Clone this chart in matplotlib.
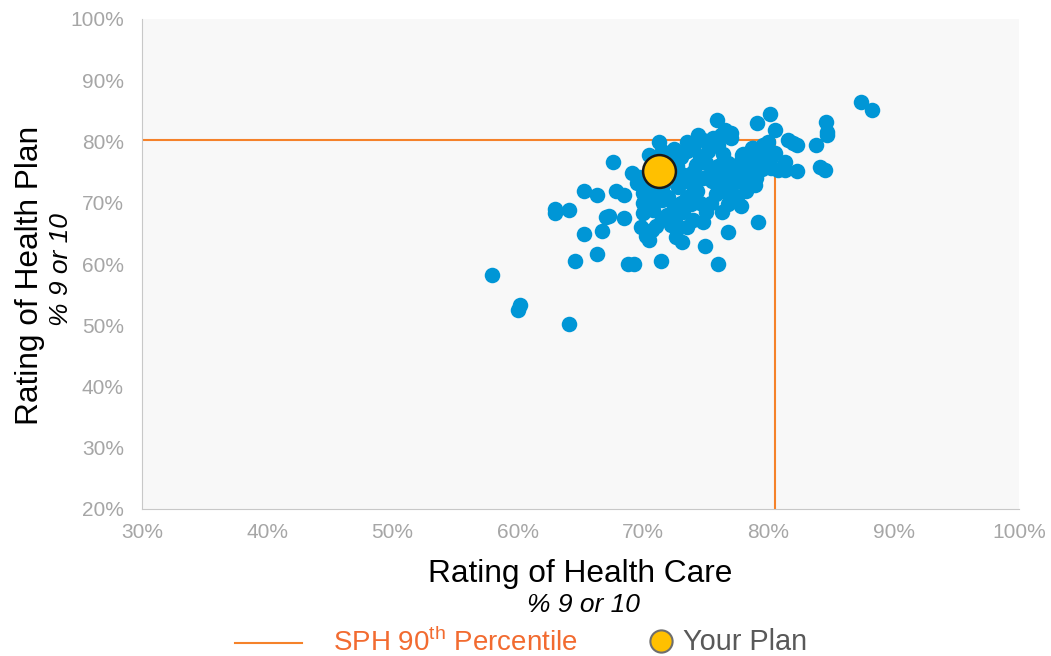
import matplotlib
matplotlib.use("Agg")
import matplotlib.pyplot as plt
from matplotlib.lines import Line2D
from matplotlib.ticker import PercentFormatter

plt.rcParams['font.family'] = ['Liberation Sans', 'DejaVu Sans']
plt.rcParams['mathtext.fontset'] = 'custom'
plt.rcParams['mathtext.rm'] = 'Liberation Sans'

# ------------------------
# Data (% rating 9 or 10)
# ------------------------
health_care = [57.9, 60.0, 60.2, 64.1, 63.0, 63.0, 64.1, 64.6, 65.3, 65.3,
               66.3, 66.3, 66.7, 67.0, 67.3, 67.6, 67.8, 68.5, 68.5, 68.8,
               69.3, 69.1, 69.7, 70.0, 70.0, 70.0, 70.5, 70.7, 71.4, 71.3,
               70.5, 71.6, 71.9, 72.2, 72.6, 73.1, 74.0, 74.9, 76.0, 76.8,
               76.3, 77.8, 79.2, 78.3, 78.9, 77.9, 78.7, 79.5, 74.4, 75.9,
               76.5, 77.0, 79.1, 80.1, 80.5, 81.6, 82.0, 82.3, 81.3, 81.3,
               82.3, 83.8, 84.6, 84.7, 84.7, 84.1, 84.5, 87.4, 88.3, 80.1,
               80.2, 80.8,
               72.5, 73.0, 72.7, 73.3, 73.8, 74.3, 74.8, 74.2, 74.0, 75.2,
               75.6, 76.0, 76.4, 76.8, 77.2, 77.6, 76.2, 75.8, 75.4, 76.6,
               77.0, 78.0, 78.6, 79.0, 79.6, 80.0, 75.0, 75.5, 76.0, 73.5,
               73.0, 72.5, 72.0, 71.5, 71.0, 70.5, 70.8, 71.5, 72.3, 73.2,
               73.8, 74.5, 75.0, 76.8, 77.5, 78.2, 79.0, 79.5, 78.0, 77.0,
               76.2, 74.8, 73.5, 72.0, 71.8, 70.8, 70.4, 71.2, 72.2, 72.8,
               70.2, 69.5, 74.0, 75.5, 76.5, 77.8, 78.8, 80.5, 79.8, 74.5,
               73.5, 71.5, 72.6, 73.5, 74.8, 71.0, 69.8, 70.2]
health_plan = [58.2, 52.5, 53.3, 50.2, 69.0, 68.3, 68.8, 60.5, 64.9, 71.9,
               71.3, 61.6, 65.4, 67.7, 67.8, 76.7, 71.9, 67.5, 71.3, 60.0,
               60.0, 74.9, 74.2, 71.6, 70.0, 68.3, 63.9, 65.5, 60.5, 79.9,
               77.8, 72.9, 68.0, 66.4, 64.4, 63.6, 67.2, 62.9, 60.0, 65.2,
               68.5, 69.5, 66.9, 72.9, 72.9, 77.8, 78.9, 78.8, 81.1, 83.5,
               81.9, 81.4, 83.0, 84.5, 81.9, 80.2, 79.8, 79.4, 76.7, 75.3,
               75.2, 79.4, 83.2, 81.5, 81.1, 75.8, 75.3, 86.4, 85.1, 77.0,
               75.7, 75.3,
               78.7, 77.5, 76.0, 74.5, 73.3, 72.0, 74.0, 76.2, 79.0, 78.5,
               80.5, 79.5, 78.0, 76.5, 75.0, 73.5, 73.0, 71.5, 70.0, 71.8,
               72.5, 74.8, 76.2, 77.5, 79.5, 80.0, 76.5, 75.0, 76.0, 71.0,
               70.0, 69.5, 71.0, 70.5, 71.5, 70.0, 68.8, 67.5, 68.2, 68.5,
               69.8, 70.0, 68.5, 69.8, 71.0, 72.0, 74.0, 75.5, 78.0, 80.5,
               81.0, 80.2, 80.0, 78.0, 76.8, 76.5, 74.5, 73.5, 74.3, 72.5,
               72.8, 73.2, 75.0, 73.5, 74.5, 76.8, 79.0, 78.2, 76.5, 77.5,
               78.5, 78.5, 66.5, 66.0, 66.8, 66.2, 66.0, 64.5]

your_plan_care = 71.3
your_plan_plan = 75.2
p90_care = 80.5
p90_plan = 80.25

# ------------------------
# Plot
# ------------------------
W, H = 1051, 656
fig = plt.figure(figsize=(W / 100, H / 100), dpi=100)
ax = fig.add_axes([142 / W, 1 - 509 / H, (1019 - 142) / W, (509 - 19) / H])
ax.set_facecolor('#f8f8f8')

ax.scatter(health_care, health_plan, s=125, color='#0096d6', linewidths=0, zorder=3)

orange = '#f5822a'
ax.plot([30, p90_care], [p90_plan, p90_plan], color=orange, lw=1.5, zorder=2)
ax.plot([p90_care, p90_care], [20, p90_plan], color=orange, lw=1.5, zorder=2)

ax.scatter([your_plan_care], [your_plan_plan], s=560, color='#ffc000',
           edgecolors='#1a1a1a', linewidths=1.8, zorder=5)

ax.set_xlim(30, 100)
ax.set_ylim(20, 100)
ax.set_xticks(range(30, 101, 10))
ax.set_yticks(range(20, 101, 10))
ax.xaxis.set_major_formatter(PercentFormatter(decimals=0))
ax.yaxis.set_major_formatter(PercentFormatter(decimals=0))
ax.tick_params(length=0, labelsize=15, labelcolor='#a6a6a6')
ax.tick_params(axis='y', pad=13)
ax.tick_params(axis='x', pad=10)
for side in ['top', 'right']:
    ax.spines[side].set_visible(False)
for side in ['left', 'bottom']:
    ax.spines[side].set_color('#c8c8c8')

# axis titles
fig.text(580 / W, 1 - 574 / H, "Rating of Health Care", fontsize=22.8,
         ha='center', va='center', color='black')
fig.text(583 / W, 1 - 605 / H, "% 9 or 10", fontsize=19, style='italic',
         ha='center', va='center', color='black')
fig.text(30 / W, 1 - 275 / H, "Rating of Health Plan", fontsize=22.8,
         rotation=90, ha='center', va='center', color='black')
fig.text(61 / W, 1 - 270 / H, "% 9 or 10", fontsize=19, style='italic',
         rotation=90, ha='center', va='center', color='black')

# legend
ly = 1 - 642 / H
fig.add_artist(Line2D([235 / W, 302 / W], [1 - 643 / H, 1 - 643 / H],
                      transform=fig.transFigure, color=orange, lw=1.5))
fig.text(333 / W, ly, r"SPH 90$^{\mathrm{th}}$ Percentile", fontsize=20,
         color='#f26b30', ha='left', va='center')
fig.add_artist(Line2D([661 / W], [1 - 641 / H], transform=fig.transFigure,
                      marker='o', markersize=16, markerfacecolor='#ffc000',
                      markeredgecolor='#6e6e6e', markeredgewidth=1.5, linestyle='none'))
fig.text(683 / W, ly, "Your Plan", fontsize=20.8, color='#595959',
         ha='left', va='center')

fig.savefig("out.png", dpi=100)
